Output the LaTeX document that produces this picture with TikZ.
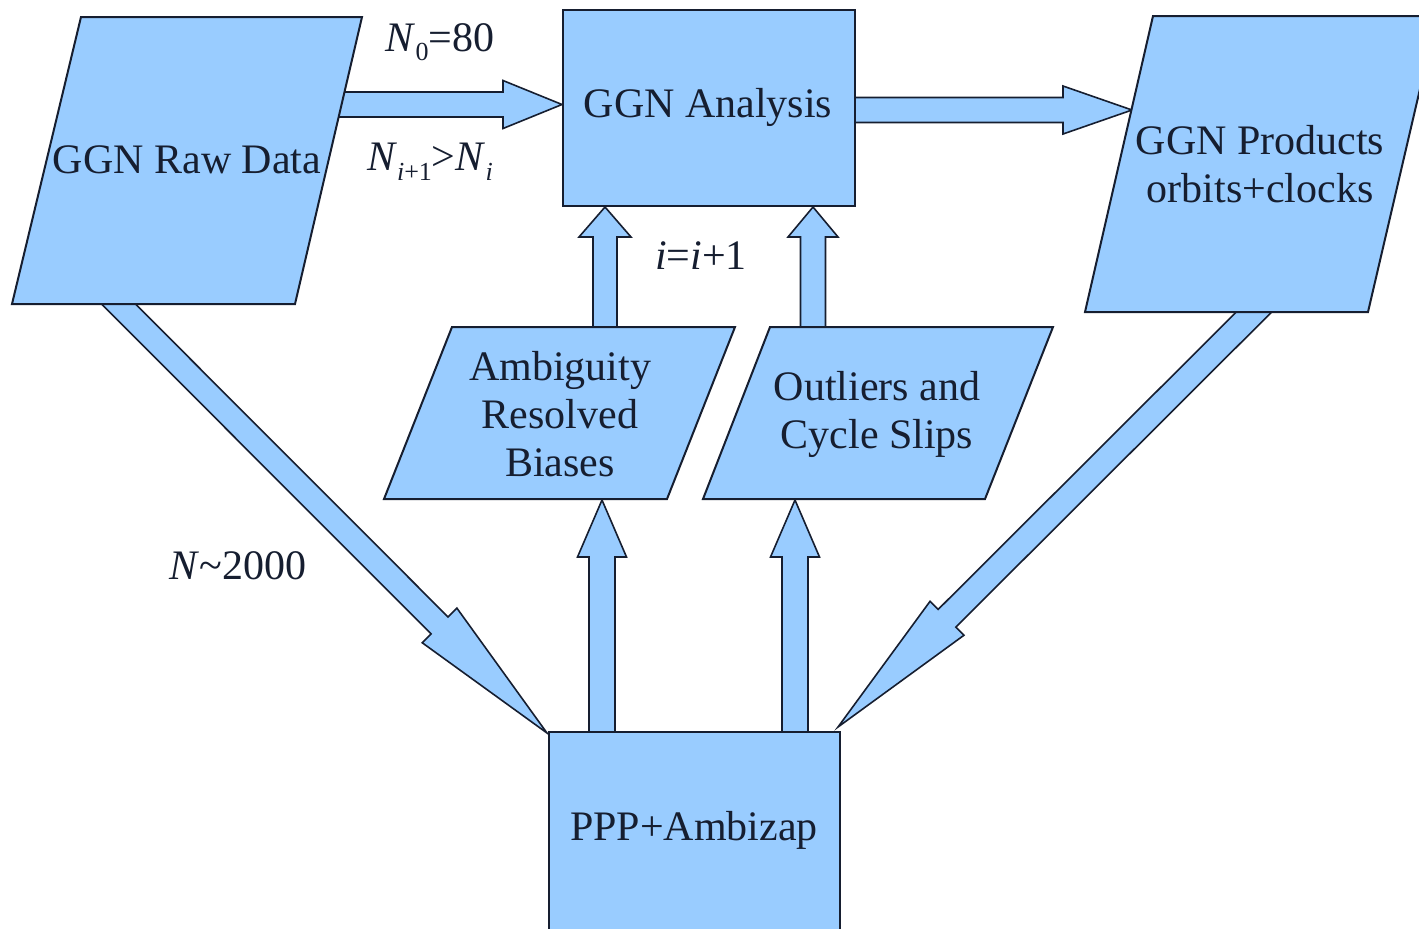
\documentclass[tikz,border=0pt]{standalone}
\usepackage{fontspec}
\setmainfont{Liberation Serif}
\usetikzlibrary{calc}
\definecolor{boxfill}{RGB}{153,204,255}
\definecolor{ink}{RGB}{22,30,48}
\tikzset{
  shapebox/.style={draw=ink, fill=boxfill, line width=1pt, line join=miter},
  barrow/.style={draw=ink, fill=boxfill, line width=0.8pt, line join=miter},
  boxtext/.style={font=\fontsize{21}{24}\selectfont, text=ink, align=center, inner sep=0pt},
  lbl/.style={font=\fontsize{21}{24}\selectfont, text=ink, inner sep=0pt},
}
% block arrow: #1 from, #2 to, #3 half shaft width, #4 half head width, #5 head length
\newcommand\blockarr[5]{%
  \draw[barrow] ($(#1)!#3!90:(#2)$)
    -- ($($(#2)!#5!(#1)$)!#3!-90:(#1)$)
    -- ($($(#2)!#5!(#1)$)!#4!-90:(#1)$)
    -- (#2)
    -- ($($(#2)!#5!(#1)$)!#4!90:(#1)$)
    -- ($($(#2)!#5!(#1)$)!#3!90:(#1)$)
    -- ($(#1)!#3!-90:(#2)$) -- cycle;}
\newcommand\sbs[1]{\raisebox{-0.5ex}{\fontsize{13}{13}\selectfont #1}}
\begin{document}
\begin{tikzpicture}[x=0.5pt,y=-0.5pt]
\useasboundingbox (0,0) rectangle (1419,928);
\clip (0,0) rectangle (1419,928);

% arrow end points
\coordinate (rawE)   at (330,104.5);
\coordinate (anaW)   at (562,104.5);
\coordinate (anaE)   at (850,110);
\coordinate (prodW)  at (1132,110);
\coordinate (ambN)   at (605,330);
\coordinate (anaS1)  at (605,207);
\coordinate (outN)   at (813,330);
\coordinate (anaS2)  at (813,207);
\coordinate (pppN1)  at (602,740);
\coordinate (ambS)   at (602,500);
\coordinate (pppN2)  at (795,740);
\coordinate (outS)   at (795,500);
\coordinate (rawS)   at (110.5,296);
\coordinate (pppNW)  at (547,733);
\coordinate (prodS)  at (1262,304);
\coordinate (pppNE)  at (838,727);

% connectors (block arrows)
\blockarr{rawE}{anaW}{6.25pt}{12pt}{29.5pt}
\blockarr{anaE}{prodW}{6.25pt}{12pt}{34.5pt}
\blockarr{ambN}{anaS1}{6pt}{13pt}{15pt}
\blockarr{outN}{anaS2}{6.25pt}{12.5pt}{15pt}
\blockarr{pppN1}{ambS}{6.5pt}{12.25pt}{28.5pt}
\blockarr{pppN2}{outS}{6.5pt}{12.25pt}{28.5pt}
\blockarr{rawS}{pppNW}{6pt}{12.25pt}{76pt}
\blockarr{prodS}{pppNE}{6.25pt}{12pt}{77pt}

% shapes
\draw[shapebox] (81,17) -- (362,17) -- (295,304) -- (12,304) -- cycle;
\draw[shapebox] (563,10) rectangle (855,206);
\draw[shapebox] (1153,16) -- (1437,16) -- (1368,312) -- (1085,312) -- cycle;
\draw[shapebox] (452,327) -- (735,327) -- (667,499) -- (384,499) -- cycle;
\draw[shapebox] (770,327) -- (1053,327) -- (985,499) -- (703,499) -- cycle;
\draw[shapebox] (549,732) rectangle (840,960);

% texts
\node[boxtext] (raw)  at (187,160)  {GGN Raw Data};
\node[boxtext] (ana)  at (708,107)  {GGN Analysis};
\node[boxtext] (prod) at (1260,164) {GGN Products\\orbits+clocks};
\node[boxtext] (amb)  at (560,414)  {Ambiguity\\Resolved\\Biases};
\node[boxtext] (out)  at (877,414)  {Outliers and\\Cycle Slips};
\node[boxtext] (ppp)  at (694,830)  {PPP+Ambizap};

% labels
\node[lbl] (n0)    at (440,42)  {\textit{N}\sbs{0}=80};
\node[lbl] (ni)    at (430,162) {\textit{N}\sbs{\textit{i}+1}>\textit{N}\sbs{\textit{i}}};
\node[lbl] (ii)    at (701,256) {\textit{i}=\textit{i}+1};
\node[lbl] (n2000) at (238,566) {\textit{N}\textasciitilde 2000};
\end{tikzpicture}
\end{document}
